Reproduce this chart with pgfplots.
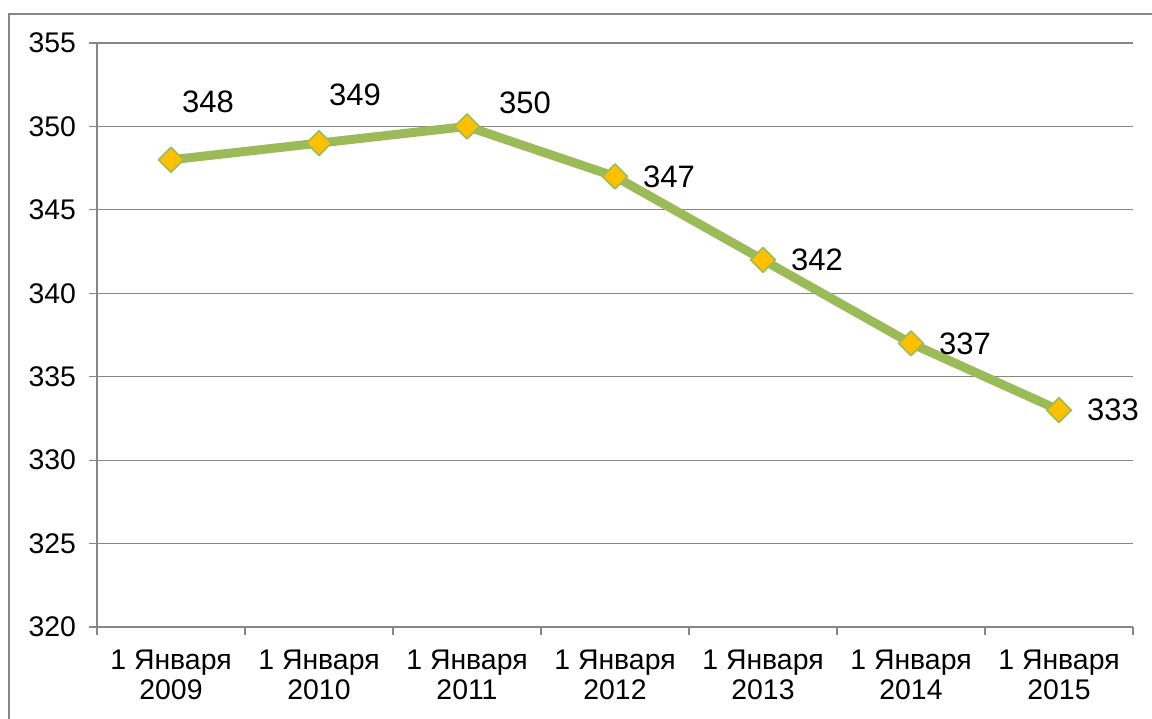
\documentclass[border=0pt]{standalone}
\usepackage{pgfplots}
\pgfplotsset{compat=1.18}
\usepackage{fontspec}
\setmainfont{Liberation Sans}
\definecolor{linegreen}{HTML}{9BBB59}
\definecolor{markgold}{HTML}{FFC000}
\definecolor{gridgray}{HTML}{868686}

\begin{document}
\begin{tikzpicture}
\useasboundingbox (0,0) rectangle (576pt,359pt);
% outer chart frame (only left and top edges fall inside the picture)
\draw[gridgray, line width=0.6pt] (4.5pt,-10pt) -- (4.5pt,352pt) -- (590pt,352pt);
\begin{axis}[
  at={(48.5pt,45.5pt)}, anchor=south west,
  scale only axis, width=518pt, height=292pt,
  xmin=-0.5, xmax=6.5, ymin=320, ymax=355,
  ytick={320,325,...,355},
  xtick={0,...,6},
  xticklabels={{1 Января\\2009},{1 Января\\2010},{1 Января\\2011},{1 Января\\2012},{1 Января\\2013},{1 Января\\2014},{1 Января\\2015}},
  minor xtick={-0.5,0.5,...,6.5},
  major x tick style={draw=none},
  axis x line*=bottom, axis y line*=left,
  axis line style={gridgray, line width=0.6pt, -},
  ymajorgrids, grid style={gridgray, line width=0.6pt},
  tick align=outside, tick style={gridgray, line width=0.6pt},
  major tick length=4pt, minor tick length=4pt,
  xticklabel style={align=center, font=\fontsize{14.2}{15}\selectfont, text=black, yshift=-4pt},
  yticklabel style={font=\fontsize{14.2}{15}\selectfont, text=black, xshift=-3pt},
  /pgf/number format/assume math mode=true,
  clip=false,
]
\addplot[linegreen, line width=4.5pt, line join=round, mark=square*, mark size=4.4pt,
  mark options={rotate=45, fill=markgold, draw=linegreen, line width=0.8pt}]
  coordinates {(0,348) (1,349) (2,350) (3,347) (4,342) (5,337) (6,333)};
\begin{scope}[every node/.style={font=\fontsize{15.5}{18}\selectfont}]
\node at (axis cs:0.25,351.5) {348};
\node at (axis cs:1.243,351.9) {349};
\node at (axis cs:2.392,351.4) {350};
\node at (axis cs:3.365,347) {347};
\node at (axis cs:4.365,342) {342};
\node at (axis cs:5.365,337) {337};
\node at (axis cs:6.365,333) {333};
\end{scope}
\end{axis}
\end{tikzpicture}
\end{document}
